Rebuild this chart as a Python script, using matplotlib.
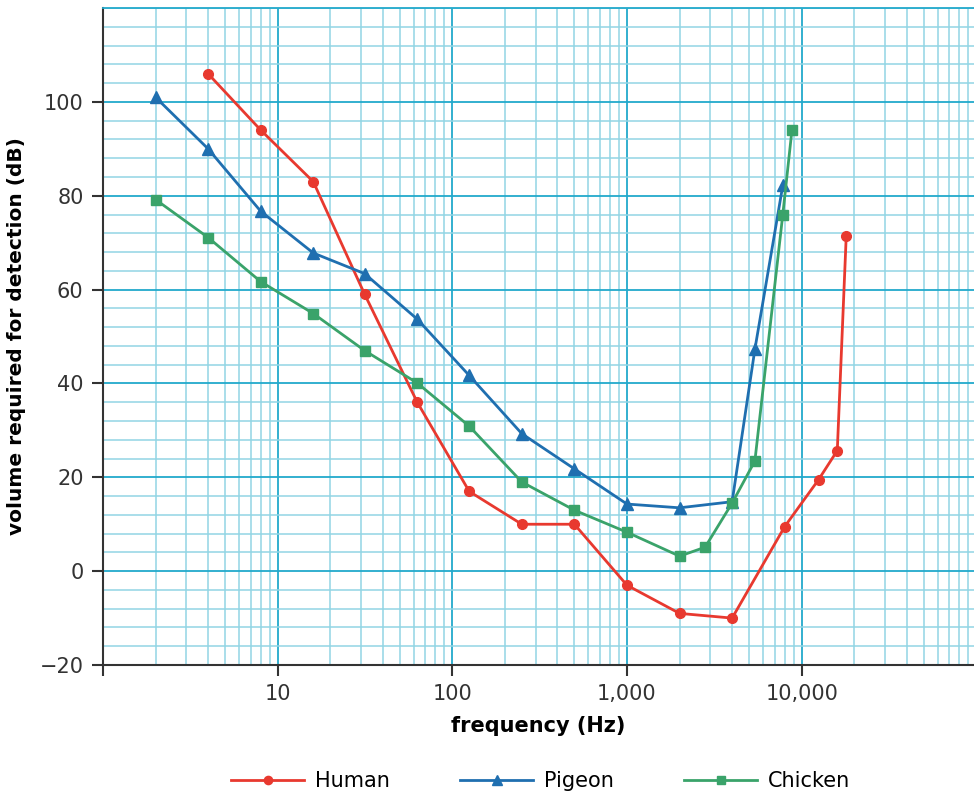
import matplotlib
matplotlib.use('Agg')
import matplotlib.pyplot as plt
from matplotlib.ticker import FixedLocator, FuncFormatter, LogLocator, MultipleLocator

human_f = [4, 8, 16, 31.5, 63, 125, 250, 500, 1000, 2000, 4000, 8000, 12500, 16000, 18000]
human_db = [106, 94, 83, 59, 36, 17, 10, 10, -3, -9, -10, 9.5, 19.5, 25.7, 71.4]

pigeon_f = [2, 4, 8, 16, 31.5, 63, 125, 250, 500, 1000, 2000, 4000, 5400, 7800]
pigeon_db = [101, 90, 76.7, 67.8, 63.4, 53.7, 41.7, 29.3, 21.8, 14.3, 13.5, 14.8, 47.3, 82.2]

chicken_f = [2, 4, 8, 16, 31.5, 63, 125, 250, 500, 1000, 2000, 2800, 4000, 5400, 7800, 8800]
chicken_db = [79.2, 71.1, 61.7, 54.9, 47.0, 40.1, 30.9, 19.0, 13.0, 8.3, 3.2, 5.1, 14.5, 23.5, 76.0, 94.0]

x_ticks = [1, 10, 100, 1000, 10000]
y_ticks = [-20, 0, 20, 40, 60, 80, 100]

fig = plt.figure(figsize=(9.74, 7.97), dpi=100)
ax = fig.add_axes([0.1057, 0.1656, 0.8943, 0.8243])

ax.plot(human_f, human_db, color='#e8392f', marker='o', markersize=7, lw=2, label='Human', zorder=5)
ax.plot(pigeon_f, pigeon_db, color='#1f6fb0', marker='^', markersize=9, lw=2, label='Pigeon', zorder=5)
ax.plot(chicken_f, chicken_db, color='#3aa36a', marker='s', markersize=7, lw=2, label='Chicken', zorder=5)

ax.set_xscale('log')
ax.set_xlim(1, 97000)
ax.set_ylim(-20, 120)

ax.xaxis.set_major_locator(FixedLocator(x_ticks))
ax.xaxis.set_minor_locator(LogLocator(base=10, subs=range(2, 10), numticks=20))
ax.xaxis.set_major_formatter(FuncFormatter(lambda v, p: '' if v < 5 else f'{int(v):,}'))
ax.xaxis.set_minor_formatter(FuncFormatter(lambda v, p: ''))
ax.yaxis.set_major_locator(FixedLocator(y_ticks))
ax.yaxis.set_minor_locator(MultipleLocator(4))
ax.yaxis.set_major_formatter(FuncFormatter(lambda v, p: f'{int(v)}'.replace('-', '\u2212')))

ax.grid(which='major', color='#22a9cc', lw=1.3, zorder=1)
ax.grid(which='minor', color='#92d5e4', lw=1.1, zorder=1)
ax.set_axisbelow(True)

ax.spines['right'].set_visible(False)
ax.spines['top'].set_color('#22a9cc')
ax.spines['top'].set_linewidth(1.3)
for s in ['left', 'bottom']:
    ax.spines[s].set_color('#333333')
    ax.spines[s].set_linewidth(1.5)

ax.tick_params(which='major', length=8, width=1.5, color='#333333', labelsize=15, labelcolor='#333333', pad=6)
ax.tick_params(which='minor', length=0)

ax.set_xlabel('frequency (Hz)', fontsize=15, fontweight='bold', labelpad=8)
ax.set_ylabel('volume required for detection (dB)', fontsize=14.5, fontweight='bold', labelpad=10)

fig.legend(loc='lower center', bbox_to_anchor=(0.555, -0.016), ncol=3, frameon=False,
           fontsize=15, handlelength=3.5, columnspacing=3.4, handletextpad=0.5, markerscale=0.85)

fig.savefig('out.png', dpi=100)
